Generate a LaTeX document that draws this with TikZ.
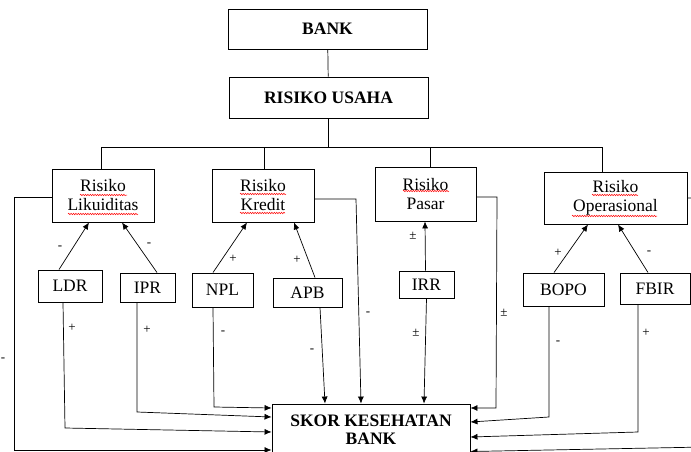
\documentclass[tikz,border=0pt]{standalone}
\usepackage{fontspec}
\setmainfont{Liberation Serif}
\usetikzlibrary{arrows.meta,decorations.pathmorphing}
\begin{document}
\begin{tikzpicture}[x=1pt,y=-1pt,
  box/.style={draw,line width=0.9pt,inner sep=0pt,align=center,font=\fontsize{17.5}{19}\selectfont},
  bbox/.style={box,font=\fontsize{17.5}{18}\selectfont\bfseries},
  arr/.style={line width=0.7pt,-{Latex[length=7pt,width=6pt]}},
  ln/.style={line width=0.7pt},
  sg/.style={font=\fontsize{13}{13}\selectfont,inner sep=0pt},
  wavy/.style={red,line width=0.5pt,decorate,decoration={snake,amplitude=0.7pt,segment length=2.4pt}}]
\useasboundingbox (0,0) rectangle (691,452);
% main boxes
\node[bbox,minimum width=199,minimum height=40] (bank) at (327.5,29) {BANK};
\node[bbox,minimum width=199,minimum height=41] (usaha) at (328.5,97.5) {RISIKO USAHA};
\node[box,minimum width=102,minimum height=53] (lik) at (103,195.5) {Risiko\\Likuiditas};
\node[box,minimum width=102,minimum height=53] (kre) at (263,195.5) {Risiko\\Kredit};
\node[box,minimum width=101,minimum height=54] (pas) at (425.5,194) {Risiko\\Pasar};
\node[box,minimum width=143,minimum height=52] (ope) at (615.5,198) {Risiko\\Operasional};
% indicators
\node[box,minimum width=64,minimum height=32] (ldr) at (70,286) {LDR};
\node[box,minimum width=55,minimum height=29] (ipr) at (147.5,287.5) {IPR};
\node[box,minimum width=61,minimum height=34] (npl) at (222.5,290) {NPL};
\node[box,minimum width=69,minimum height=29] (apb) at (307.5,292.5) {APB};
\node[box,minimum width=55,minimum height=27] (irr) at (426.5,284.5) {IRR};
\node[box,minimum width=81,minimum height=33] (bopo) at (563.5,289.5) {BOPO};
\node[box,minimum width=70,minimum height=31] (fbir) at (655,288.5) {FBIR};
\node[bbox,minimum width=198,minimum height=51] (skor) at (371,429.5) {SKOR KESEHATAN\\BANK};
% spell-check underlines
\draw[wavy] (80,195) -- (127,195);
\draw[wavy] (68,214) -- (138,214);
\draw[wavy] (240,194) -- (286,194);
\draw[wavy] (240,213) -- (285,213);
\draw[wavy] (403,191) -- (449,191);
\draw[wavy] (592,195) -- (638,195);
\draw[wavy] (572,216) -- (657,216);
% tree
\coordinate (busL) at (101,147);
\coordinate (busK) at (264,147);
\coordinate (busP) at (430,147);
\coordinate (busR) at (602,147);
\draw[ln] (bank) -- (usaha);
\draw[ln] (usaha.south) -- (usaha.south |- busL);
\draw[ln] (busL |- lik.north) -- (busL) -- (busR) -- (busR |- ope.north);
\draw[ln] (busK) -- (busK |- kre.north);
\draw[ln] (busP) -- (busP |- pas.north);
% indicator -> risk
\draw[arr] ([xshift=-11pt]ldr.north) -- ([xshift=-14pt]lik.south);
\draw[arr] ([xshift=9.5pt]ipr.north) -- ([xshift=19pt]lik.south);
\draw[arr] ([xshift=-9.5pt]npl.north) -- ([xshift=-16pt]kre.south);
\draw[arr] ([xshift=7.5pt]apb.north) -- ([xshift=31pt]kre.south);
\draw[arr] ([xshift=-1pt]irr.north) -- ([xshift=-0.5pt]pas.south);
\draw[arr] ([xshift=-9.5pt]bopo.north) -- ([xshift=-27.5pt]ope.south);
\draw[arr] ([xshift=-7pt]fbir.north) -- ([xshift=2.5pt]ope.south);
\node[sg] (s1) at (60,248) {-};
\node[sg] (s2) at (149,245) {-};
\node[sg] (s3) at (233,259) {+};
\node[sg] (s4) at (297,260) {+};
\node[sg] (s5) at (413,236) {±};
\node[sg] (s6) at (558,253) {+};
\node[sg] (s7) at (649,253) {-};
% to score
\draw[arr] ([xshift=-7pt]ldr.south) -- (65,428) -- ([yshift=-2.5pt]skor.west);
\draw[arr] ([xshift=-10.5pt]ipr.south) -- (137,412) -- ([yshift=12.5pt]skor.west);
\draw[arr] ([xshift=-9.5pt]npl.south) -- (214,407) -- ([yshift=21.5pt]skor.west);
\draw[arr] ([xshift=12.5pt]apb.south) -- ([xshift=-46pt]skor.north);
\draw[arr] ([yshift=-3.5pt]kre.east) -- (356,199) -- ([xshift=-10pt]skor.north);
\draw[arr] (irr.south) -- ([xshift=53pt]skor.north);
\draw[arr] ([yshift=-3pt]pas.east) -- (497,197) -- (496,408) -- ([yshift=21.5pt]skor.east);
\draw[arr] ([xshift=-14.5pt]bopo.south) -- (549,417) -- ([yshift=7.5pt]skor.east);
\draw[arr] ([xshift=-17pt]fbir.south) -- (638,432) -- ([yshift=-7.5pt]skor.east);
\draw[arr] (ope.east) -- (705,198) -- (705,447) -- ([yshift=-22pt]skor.east);
\draw[arr] ([yshift=-1.5pt]lik.west) -- (14,197) -- (14,450) -- ([yshift=-20.5pt]skor.west);
\node[sg] (t1) at (72,328) {+};
\node[sg] (t2) at (147,330) {+};
\node[sg] (t3) at (223,333) {-};
\node[sg] (t4) at (312,351) {-};
\node[sg] (t5) at (368,314) {-};
\node[sg] (t6) at (416,333) {±};
\node[sg] (t7) at (504,313) {±};
\node[sg] (t8) at (558,343) {-};
\node[sg] (t9) at (646,333) {+};
\node[sg] (t10) at (3,360) {-};
\end{tikzpicture}
\end{document}
